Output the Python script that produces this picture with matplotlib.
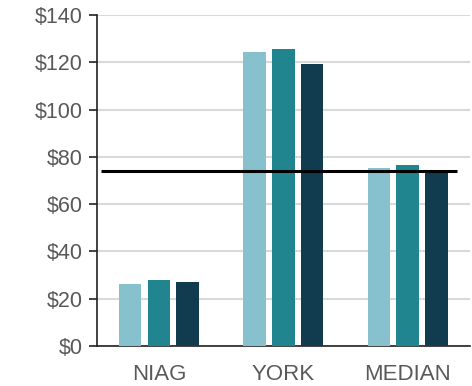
import numpy as np
import matplotlib.pyplot as plt
from matplotlib.ticker import FuncFormatter

plt.rcParams['font.family'] = ['Liberation Sans', 'DejaVu Sans']

categories = ["NIAG", "YORK", "MEDIAN"]
series_a = [26.3, 124.4, 75.3]
series_b = [27.8, 125.6, 76.7]
series_c = [26.9, 119.4, 73.3]
benchmark = 74.0
colors = ["#86c1cd", "#21858f", "#113c4f"]

fig = plt.figure(figsize=(4.72, 3.86), dpi=100)
ax = fig.add_axes([96.7 / 472, 1 - 346 / 386, (470 - 96.7) / 472, 331 / 386])

x = np.arange(len(categories))
width = 0.182
step = 0.231
for i, (vals, col) in enumerate(zip([series_a, series_b, series_c], colors)):
    ax.bar(x + (i - 1) * step, vals, width=width, color=col, zorder=3)

# benchmark line across the groups
ax.plot([-0.463, 2.394], [benchmark, benchmark], color="black", lw=2.2, zorder=4,
        solid_capstyle="butt")

ax.set_xlim(-0.5, 2.5)
ax.set_ylim(0, 140)
ax.set_yticks(np.arange(0, 141, 20))
ax.yaxis.set_major_formatter(FuncFormatter(lambda v, p: f"${v:.0f}"))
ax.set_xticks(x)
ax.set_xticklabels(categories)

ax.grid(axis="y", color="#d9d9d9", lw=1.5, zorder=0)
for s in ["top", "right"]:
    ax.spines[s].set_visible(False)
for s in ["left", "bottom"]:
    ax.spines[s].set_color("#222222")
    ax.spines[s].set_linewidth(1.2)
ax.tick_params(axis="y", length=6, width=1.2, color="#222222", labelsize=15.5,
               labelcolor="#595959", pad=4)
ax.tick_params(axis="x", length=0, labelsize=16, labelcolor="#595959", pad=13)

fig.savefig("out.png", dpi=100)
